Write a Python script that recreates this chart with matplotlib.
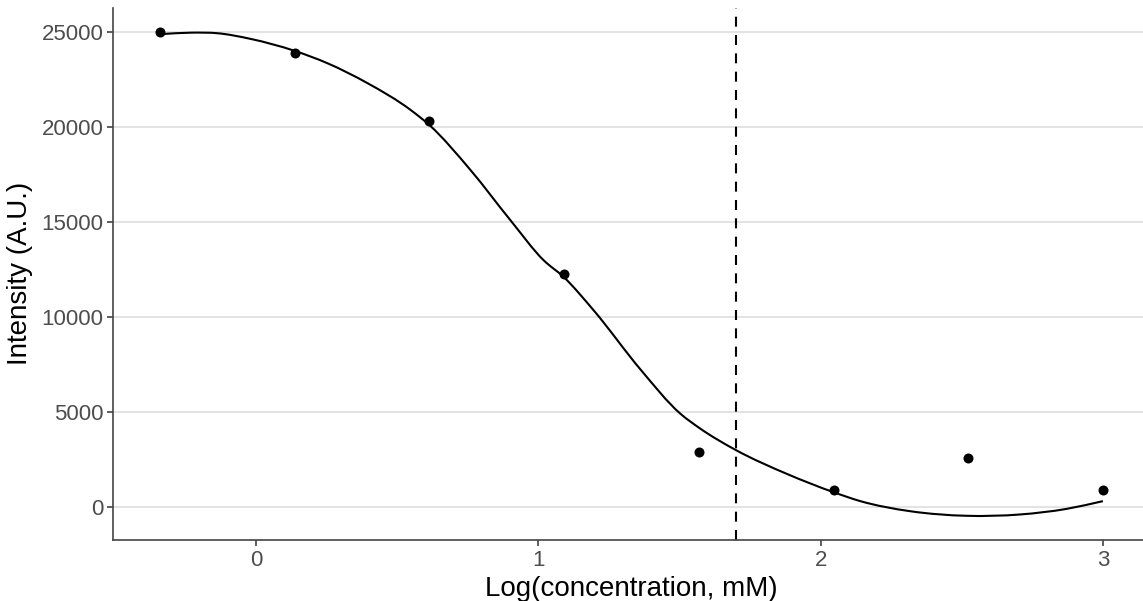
import numpy as np
import matplotlib
matplotlib.use("Agg")
import matplotlib.pyplot as plt
from matplotlib.path import Path
from matplotlib.patches import PathPatch

# ---- data ----
log_conc = [-0.34, 0.137, 0.614, 1.092, 1.569, 2.046, 2.523, 3.0]
intensity = [25000, 23900, 20300, 12250, 2900, 900, 2600, 900]

# fitted smooth curve
curve_x = [-0.34, -0.23, -0.137, -0.019, 0.135, 0.253, 0.394, 0.548, 0.614,
           0.76, 0.901, 1.019, 1.09, 1.196, 1.362, 1.503, 1.574, 1.698,
           1.881, 2.046, 2.141, 2.318, 2.518, 2.707, 2.872, 3.0]
curve_y = [24870, 24950, 24920, 24620, 24000, 23340, 22300, 20880, 20090,
           17720, 15090, 12980, 12100, 10350, 7240, 4920, 4130, 3020,
           1750, 790, 320, -210, -450, -380, -85, 320]

threshold_x = 1.699
x_ticks = [0, 1, 2, 3]
y_ticks = [0, 5000, 10000, 15000, 20000, 25000]
x_label = "Log(concentration, mM)"
y_label = "Intensity (A.U.)"


def smooth_path(xv, yv):
    """Cubic Hermite curve (in x) through the given points, as Bezier segments."""
    x = np.asarray(xv, float)
    y = np.asarray(yv, float)
    h = np.diff(x)
    d = np.diff(y) / h
    m = np.empty_like(y)
    m[0], m[-1] = d[0], d[-1]
    m[1:-1] = (d[:-1] * h[1:] + d[1:] * h[:-1]) / (h[:-1] + h[1:])
    verts = [(x[0], y[0])]
    codes = [Path.MOVETO]
    for i in range(len(x) - 1):
        hi = h[i] / 3.0
        verts += [(x[i] + hi, y[i] + m[i] * hi),
                  (x[i + 1] - hi, y[i + 1] - m[i + 1] * hi),
                  (x[i + 1], y[i + 1])]
        codes += [Path.CURVE4] * 3
    return Path(verts, codes)


fig = plt.figure(figsize=(11.43, 6.01), dpi=100)
ax = fig.add_axes([113 / 1143, 1 - 540 / 601, (1150 - 113) / 1143, (540 - 7.5) / 601])

ax.add_patch(PathPatch(smooth_path(curve_x, curve_y), facecolor="none",
                       edgecolor="black", lw=1.5, zorder=3, capstyle="butt"))
ax.scatter(log_conc, intensity, s=52, color="black", zorder=4, linewidths=0)

xr = max(log_conc) - min(log_conc)
ax.set_xlim(min(log_conc) - 0.05 * xr, max(log_conc) + 0.05 * xr)
ymin = min(min(intensity), min(curve_y))
ymax = max(max(intensity), max(curve_y))
yr = ymax - ymin
y0, y1 = ymin - 0.05 * yr, ymax + 0.05 * yr
ax.set_ylim(y0, y1)

ax.plot([threshold_x, threshold_x], [y0, y1], color="black", lw=1.5,
        dashes=(4.8, 4), zorder=2)

ax.set_xticks(x_ticks)
ax.set_yticks(y_ticks)
ax.set_xticklabels([str(t) for t in x_ticks])
ax.set_yticklabels([str(t) for t in y_ticks])
ax.yaxis.grid(True, color="#DEDEDE", lw=1.2)
ax.set_axisbelow(True)

for s in ["top", "right"]:
    ax.spines[s].set_visible(False)
for s in ["left", "bottom"]:
    ax.spines[s].set_color("#444444")
    ax.spines[s].set_linewidth(1.2)

ax.tick_params(axis="both", colors="#333333", length=4, width=1.1,
               labelsize=16, labelcolor="#4D4D4D", pad=3)
for lab in ax.get_xticklabels() + ax.get_yticklabels():
    lab.set_family("Liberation Sans")

ax.set_xlabel(x_label, fontsize=20, family="Liberation Sans", color="black", labelpad=4)
ax.set_ylabel(y_label, fontsize=20, family="Liberation Sans", color="black", labelpad=6)

fig.savefig("out.png", dpi=100)
